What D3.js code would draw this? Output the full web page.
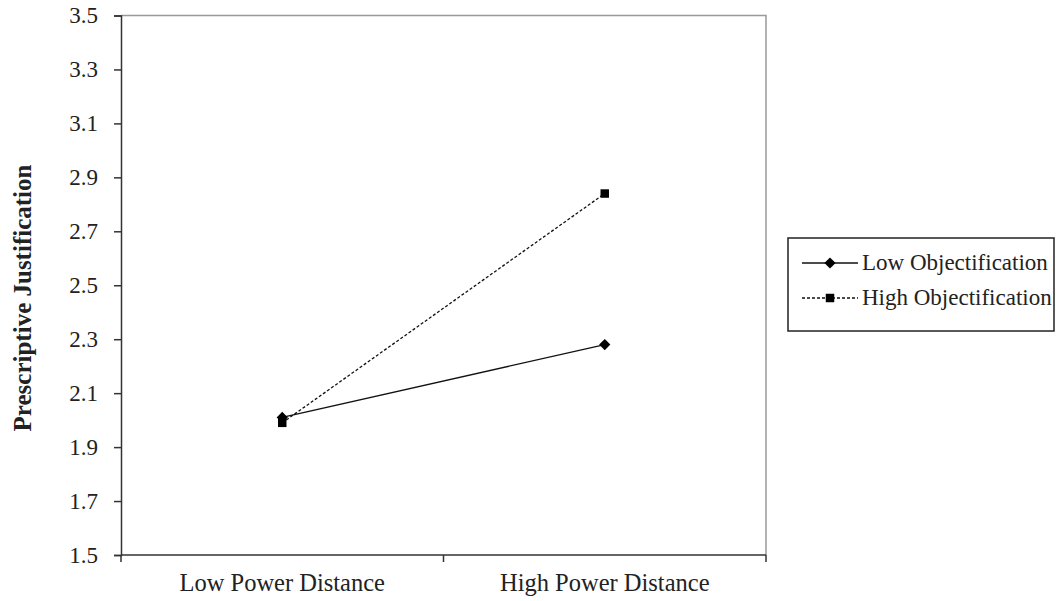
<!DOCTYPE html>
<html>
<head>
<meta charset="utf-8">
<script src="https://cdn.jsdelivr.net/npm/d3@7"></script>
<style>
  body { margin: 0; background: #fff; }
  svg text { font-family: "Liberation Serif", "Times New Roman", serif; fill: #222; }
</style>
</head>
<body>
<div id="chart"></div>
<script>
var categories = ["Low Power Distance", "High Power Distance"];
var seriesNames = ["Low Objectification", "High Objectification"];
var lowObjValues = [2.01, 2.28];
var highObjValues = [1.99, 2.84];
var yTicks = [1.5, 1.7, 1.9, 2.1, 2.3, 2.5, 2.7, 2.9, 3.1, 3.3, 3.5];

var W = 1057, H = 601;
var margin = {top: 15.5, left: 121, right: 291, bottom: 46};

var svg = d3.select("#chart").append("svg")
  .attr("width", W).attr("height", H);

var x = d3.scaleBand()
  .domain(categories)
  .range([margin.left, W - margin.right]);

var y = d3.scaleLinear()
  .domain([1.5, 3.5])
  .range([H - margin.bottom, margin.top]);

// plot border (top + right)
svg.append("path")
  .attr("d", "M" + margin.left + "," + y(3.5) + "H" + x.range()[1] + "V" + y(1.5))
  .attr("fill", "none").attr("stroke", "#999").attr("stroke-width", 1.5);

// y axis
var yAxis = d3.axisLeft(y).tickValues(yTicks).tickFormat(d3.format(".1f")).tickSize(7).tickPadding(16);
var gy = svg.append("g").attr("transform", "translate(" + margin.left + ",0)").call(yAxis);
gy.select(".domain").attr("stroke", "#333").attr("stroke-width", 1.5);
gy.selectAll(".tick line").attr("stroke", "#333").attr("stroke-width", 1.5);
gy.selectAll("text").attr("font-size", 23)
  .attr("font-family", "Liberation Serif").attr("fill", "#222");

// x axis, ticks at band edges
var gx = svg.append("g").attr("transform", "translate(0," + y(1.5) + ")");
gx.append("line").attr("x1", x.range()[0]).attr("x2", x.range()[1])
  .attr("stroke", "#333").attr("stroke-width", 1.5);
var edges = categories.map(function(c) { return x(c); }).concat([x.range()[1]]);
gx.selectAll(".edge").data(edges).enter().append("line")
  .attr("x1", function(d) { return d; }).attr("x2", function(d) { return d; })
  .attr("y1", 0).attr("y2", 7).attr("stroke", "#333").attr("stroke-width", 1.5);
gx.selectAll(".cat").data(categories).enter().append("text")
  .attr("x", function(d) { return x(d) + x.bandwidth() / 2; })
  .attr("y", 36).attr("text-anchor", "middle").attr("font-size", 24.5)
  .text(function(d) { return d; });

// y label
svg.append("text")
  .attr("transform", "translate(31," + 298 + ") rotate(-90)")
  .attr("text-anchor", "middle").attr("font-size", 25).attr("font-weight", "bold")
  .text("Prescriptive Justification");

var cx = function(i) { return x(categories[i]) + x.bandwidth() / 2; };
var line = d3.line().x(function(d, i) { return cx(i); }).y(function(d) { return y(d); });

var diamond = d3.symbol().type(d3.symbolDiamond2).size(80);
var square = d3.symbol().type(d3.symbolSquare).size(72);

svg.append("path").datum(lowObjValues).attr("d", line)
  .attr("fill", "none").attr("stroke", "#111").attr("stroke-width", 1.3);
svg.append("path").datum(highObjValues).attr("d", line)
  .attr("fill", "none").attr("stroke", "#111").attr("stroke-width", 1.3)
  .attr("stroke-dasharray", "3,2");

svg.selectAll(".sq").data(highObjValues).enter().append("path")
  .attr("transform", function(d, i) { return "translate(" + cx(i) + "," + y(d) + ")"; })
  .attr("d", square).attr("fill", "#000");
svg.selectAll(".dm").data(lowObjValues).enter().append("path")
  .attr("transform", function(d, i) { return "translate(" + cx(i) + "," + y(d) + ")"; })
  .attr("d", diamond).attr("fill", "#000");

// legend
var leg = svg.append("g");
leg.append("rect").attr("x", 788).attr("y", 238).attr("width", 266).attr("height", 93)
  .attr("fill", "#fff").attr("stroke", "#222").attr("stroke-width", 1.5);
var legRows = [
  {name: seriesNames[0], dash: null, sym: diamond, y: 263},
  {name: seriesNames[1], dash: "3,2", sym: square, y: 298}
];
legRows.forEach(function(r) {
  leg.append("line").attr("x1", 802).attr("x2", 858).attr("y1", r.y).attr("y2", r.y)
    .attr("stroke", "#111").attr("stroke-width", 1.3).attr("stroke-dasharray", r.dash);
  leg.append("path").attr("transform", "translate(830," + r.y + ")").attr("d", r.sym).attr("fill", "#000");
  leg.append("text").attr("x", 862).attr("y", r.y + 7).attr("font-size", 23).text(r.name);
});
</script>
</body>
</html>
